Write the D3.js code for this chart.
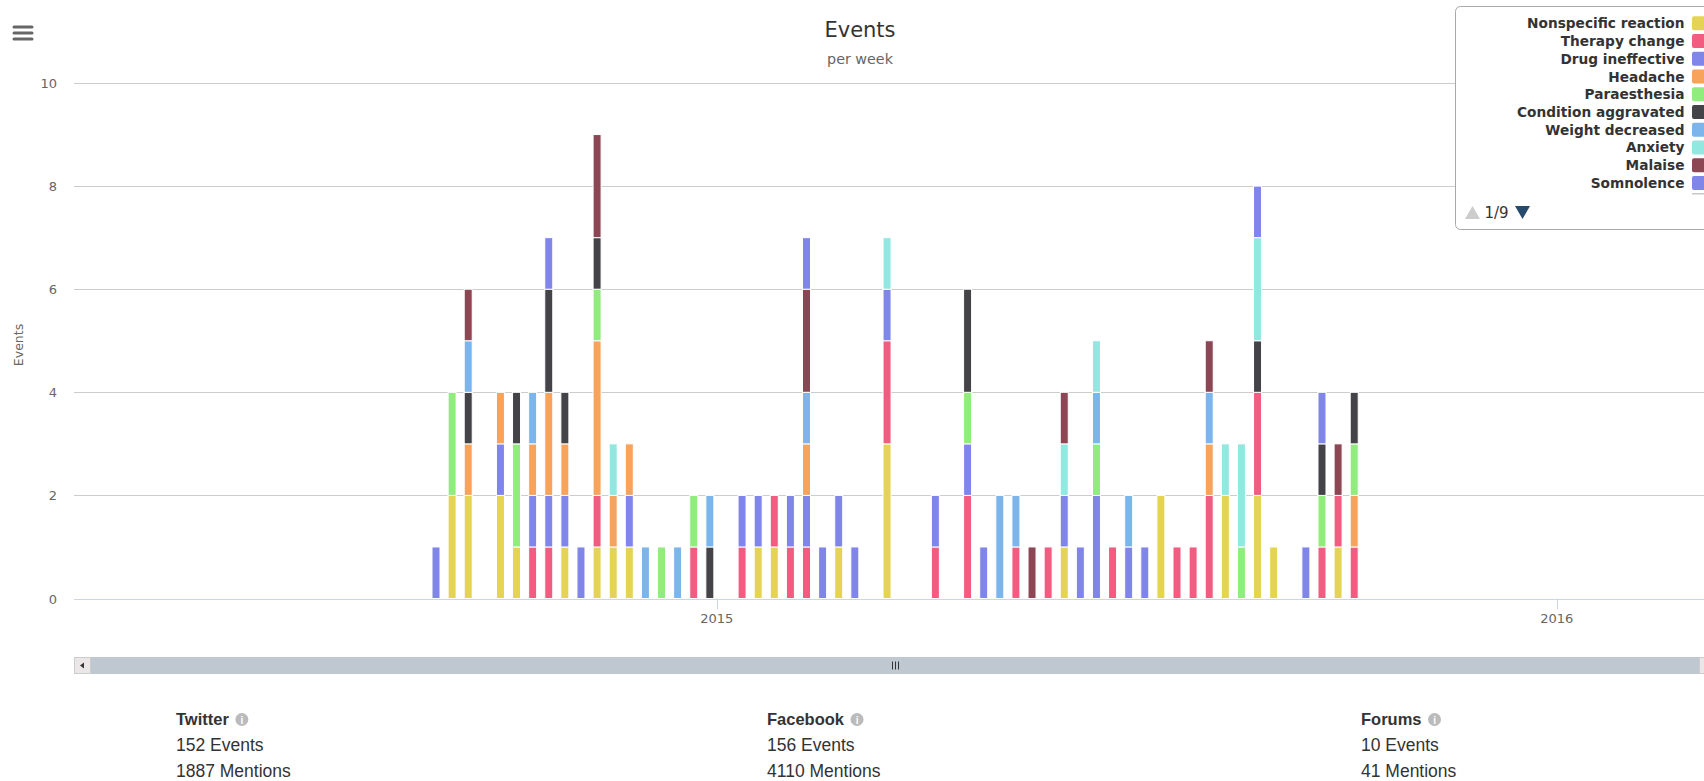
<!doctype html>
<html>
<head>
<meta charset="utf-8">
<script src="https://d3js.org/d3.v7.min.js"></script>
<style>
  body { margin: 0; background: #fff; }
  svg { display: block; }
</style>
</head>
<body>
<script>
// weeks that have events (week start)
const weeks = [
  "2014-09-01", "2014-09-08", "2014-09-15", "2014-09-29", "2014-10-06", "2014-10-13", "2014-10-20", "2014-10-27", "2014-11-03", "2014-11-10",
  "2014-11-17", "2014-11-24", "2014-12-01", "2014-12-08", "2014-12-15", "2014-12-22", "2014-12-29", "2015-01-12", "2015-01-19", "2015-01-26",
  "2015-02-02", "2015-02-09", "2015-02-16", "2015-02-23", "2015-03-02", "2015-03-16", "2015-04-06", "2015-04-20", "2015-04-27", "2015-05-04",
  "2015-05-11", "2015-05-18", "2015-05-25", "2015-06-01", "2015-06-08", "2015-06-15", "2015-06-22", "2015-06-29", "2015-07-06", "2015-07-13",
  "2015-07-20", "2015-07-27", "2015-08-03", "2015-08-10", "2015-08-17", "2015-08-24", "2015-08-31", "2015-09-14", "2015-09-21", "2015-09-28",
  "2015-10-05"
]

const seriesNames = ["Nonspecific reaction", "Therapy change", "Drug ineffective", "Headache", "Paraesthesia",
  "Condition aggravated", "Weight decreased", "Anxiety", "Malaise", "Somnolence"]
const seriesColors = ["#e4d354", "#f15c80", "#8085e9", "#f7a35c", "#90ed7d",
  "#434348", "#7cb5ec", "#91e8e1", "#8d4654", "#8085e9"]

// events per week, one array per series, same order as weeks
const nonspecific = [0,2,2,2,1,0,0,1,0,1, 1,1,0,0,0,0,0,0,1,1, 0,0,0,1,0,3,0,0,0,0, 0,0,0,1,0,0,0,0,0,2, 0,0,0,2,0,2,1,0,0,1, 0]
const therapy     = [0,0,0,0,0,1,1,0,0,1, 0,0,0,0,0,1,0,1,0,1, 1,1,0,0,0,2,1,2,0,0, 1,0,1,0,0,0,1,0,0,0, 1,1,2,0,0,2,0,0,1,1, 1]
const ineffective = [1,0,0,1,0,1,1,1,1,0, 0,1,0,0,0,0,0,1,1,0, 1,1,1,1,1,1,1,1,1,0, 0,0,0,1,1,2,0,1,1,0, 0,0,0,0,0,0,0,1,0,0, 0]
const headache    = [0,0,1,1,0,1,2,1,0,3, 1,1,0,0,0,0,0,0,0,0, 0,1,0,0,0,0,0,0,0,0, 0,0,0,0,0,0,0,0,0,0, 0,0,1,0,0,0,0,0,0,0, 1]
const paraesth    = [0,2,0,0,2,0,0,0,0,1, 0,0,0,1,0,1,0,0,0,0, 0,0,0,0,0,0,0,1,0,0, 0,0,0,0,0,1,0,0,0,0, 0,0,0,0,1,0,0,0,1,0, 1]
const aggravated  = [0,0,1,0,1,0,2,1,0,1, 0,0,0,0,0,0,1,0,0,0, 0,0,0,0,0,0,0,2,0,0, 0,0,0,0,0,0,0,0,0,0, 0,0,0,0,0,1,0,0,1,0, 1]
const weightDec   = [0,0,1,0,0,1,0,0,0,0, 0,0,1,0,1,0,1,0,0,0, 0,1,0,0,0,0,0,0,0,2, 1,0,0,0,0,1,0,1,0,0, 0,0,1,0,0,0,0,0,0,0, 0]
const anxiety     = [0,0,0,0,0,0,0,0,0,0, 1,0,0,0,0,0,0,0,0,0, 0,0,0,0,0,1,0,0,0,0, 0,0,0,1,0,1,0,0,0,0, 0,0,0,1,2,2,0,0,0,0, 0]
const malaise     = [0,0,1,0,0,0,0,0,0,2, 0,0,0,0,0,0,0,0,0,0, 0,2,0,0,0,0,0,0,0,0, 0,1,0,1,0,0,0,0,0,0, 0,0,1,0,0,0,0,0,0,1, 0]
const somnolence  = [0,0,0,0,0,0,1,0,0,0, 0,0,0,0,0,0,0,0,0,0, 0,1,0,0,0,0,0,0,0,0, 0,0,0,0,0,0,0,0,0,0, 0,0,0,0,0,1,0,0,1,0, 0]

const seriesValues = [nonspecific, therapy, ineffective, headache, paraesth, aggravated, weightDec, anxiety, malaise, somnolence]

const yTicks = [0, 2, 4, 6, 8, 10]
const xTicks = ["2015-01-01", "2016-01-01"]
const xDomain = ["2014-03-29", "2016-03-05"]

const footer = [
  { name: "Twitter", events: 152, mentions: 1887 },
  { name: "Facebook", events: 156, mentions: 4110 },
  { name: "Forums", events: 10, mentions: 41 }
]

const W = 1704
const H = 781
const plotLeft = 77
const plotRight = 1704
const plotTop = 83
const plotBottom = 598.5
const font = "'DejaVu Sans', Verdana, sans-serif"

const parse = d3.utcParse("%Y-%m-%d")

// table for the stack
const table = weeks.map((w, i) => {
  let row = { date: parse(w) }
  seriesNames.forEach((n, j) => { row[n] = seriesValues[j][i] })
  return row
})
const stacked = d3.stack().keys(seriesNames)(table)

const x = d3.scaleUtc().domain(xDomain.map(parse)).range([plotLeft, plotRight])
const y = d3.scaleLinear().domain([0, 10]).range([plotBottom, plotTop])

let svg = d3.select('body')
  .append('svg')
  .attr('width', W)
  .attr('height', H)
  .attr('font-family', font)

//grid
svg.append('g')
  .selectAll('line')
  .data(yTicks.filter(d => d > 0))
  .enter()
  .append('line')
  .attr('x1', plotLeft - 3)
  .attr('x2', plotRight)
  .attr('y1', d => Math.round(y(d)) + 0.5)
  .attr('y2', d => Math.round(y(d)) + 0.5)
  .attr('stroke', '#cccccc')
  .attr('stroke-width', 1)

svg.append('g')
  .selectAll('text')
  .data(yTicks)
  .enter()
  .append('text')
  .attr('x', 57)
  .attr('y', d => y(d) + 5)
  .attr('text-anchor', 'end')
  .attr('fill', '#666')
  .attr('font-size', '13px')
  .text(d => d)

svg.append('text')
  .attr('transform', 'translate(23,345) rotate(-90)')
  .attr('text-anchor', 'middle')
  .attr('fill', '#666')
  .attr('font-size', '12.5px')
  .text('Events')

//bars
const bw = 8
svg.append('g')
  .selectAll('g')
  .data(stacked)
  .enter()
  .append('g')
  .attr('fill', (d, i) => seriesColors[i])
  .selectAll('rect')
  .data(d => d.filter(p => p[1] > p[0]))
  .enter()
  .append('rect')
  .attr('x', d => x(d.data.date) - bw / 2)
  .attr('y', d => y(d[1]))
  .attr('width', bw)
  .attr('height', d => y(d[0]) - y(d[1]))
  .attr('stroke', '#fff')
  .attr('stroke-width', 1)

//x axis
svg.append('line')
  .attr('x1', plotLeft - 3)
  .attr('x2', plotRight)
  .attr('y1', Math.round(plotBottom) + 0.5)
  .attr('y2', Math.round(plotBottom) + 0.5)
  .attr('stroke', '#ccd6eb')
svg.append('g')
  .selectAll('line')
  .data(xTicks)
  .enter()
  .append('line')
  .attr('x1', d => Math.round(x(parse(d))) + 0.5)
  .attr('x2', d => Math.round(x(parse(d))) + 0.5)
  .attr('y1', plotBottom)
  .attr('y2', plotBottom + 11)
  .attr('stroke', '#ccd6eb')
svg.append('g')
  .selectAll('text')
  .data(xTicks)
  .enter()
  .append('text')
  .attr('x', d => x(parse(d)))
  .attr('y', 623)
  .attr('text-anchor', 'middle')
  .attr('fill', '#666')
  .attr('font-size', '13px')
  .text(d => d.slice(0, 4))

//title
svg.append('text')
  .attr('x', 860)
  .attr('y', 37)
  .attr('text-anchor', 'middle')
  .attr('fill', '#333')
  .attr('font-size', '21px')
  .text('Events')
svg.append('text')
  .attr('x', 860)
  .attr('y', 63.5)
  .attr('text-anchor', 'middle')
  .attr('fill', '#666')
  .attr('font-size', '14.3px')
  .text('per week')

//menu button
svg.append('g')
  .selectAll('line')
  .data([27, 33, 39])
  .enter()
  .append('line')
  .attr('x1', 14)
  .attr('x2', 32)
  .attr('y1', d => d)
  .attr('y2', d => d)
  .attr('stroke', '#666')
  .attr('stroke-width', 3)
  .attr('stroke-linecap', 'round')

//scrollbar
const sbY = 657
const sbH = 17
svg.append('rect')
  .attr('x', 74).attr('y', sbY)
  .attr('width', plotRight - 74).attr('height', sbH)
  .attr('fill', '#f2f2f2')
svg.append('rect')
  .attr('x', 91).attr('y', sbY)
  .attr('width', 1608).attr('height', sbH)
  .attr('fill', '#bfc8d1')
svg.append('rect')
  .attr('x', 74.5).attr('y', sbY + 0.5)
  .attr('width', 16).attr('height', sbH - 1)
  .attr('fill', '#ebe7e8')
  .attr('stroke', '#ccc')
svg.append('path')
  .attr('d', `M80,${sbY + 8.5} L84,${sbY + 5.5} L84,${sbY + 11.5} Z`)
  .attr('fill', '#333')
svg.append('rect')
  .attr('x', 1699.5).attr('y', sbY + 0.5)
  .attr('width', 16).attr('height', sbH - 1)
  .attr('fill', '#ebe7e8')
  .attr('stroke', '#ccc')
svg.append('g')
  .selectAll('line')
  .data([-3, 0, 3])
  .enter()
  .append('line')
  .attr('x1', d => 895.5 + d)
  .attr('x2', d => 895.5 + d)
  .attr('y1', sbY + 4.5)
  .attr('y2', sbY + sbH - 4.5)
  .attr('stroke', '#333')
  .attr('stroke-width', 1)

//legend
const lg = svg.append('g')
lg.append('rect')
  .attr('x', 1455.5).attr('y', 6.5)
  .attr('width', 270).attr('height', 223)
  .attr('rx', 5)
  .attr('fill', '#fff')
  .attr('stroke', '#a8a8a8')
const rowY = (i) => 23.3 + i * 17.74
lg.selectAll('text.item')
  .data(seriesNames)
  .enter()
  .append('text')
  .attr('class', 'item')
  .attr('x', 1684.5)
  .attr('y', (d, i) => rowY(i) + 5)
  .attr('text-anchor', 'end')
  .attr('fill', '#333')
  .attr('font-size', '13.7px')
  .attr('font-weight', 'bold')
  .text(d => d)
lg.selectAll('rect.sym')
  .data(seriesColors)
  .enter()
  .append('rect')
  .attr('class', 'sym')
  .attr('x', 1692)
  .attr('y', (d, i) => rowY(i) - 7)
  .attr('width', 14)
  .attr('height', 14)
  .attr('rx', 2)
  .attr('fill', d => d)
// clipped top of the next legend page row
lg.append('rect')
  .attr('x', 1692).attr('y', 193)
  .attr('width', 14).attr('height', 1.5)
  .attr('fill', '#c8c8c8')
lg.append('path')
  .attr('d', 'M1465,219 L1472.5,206 L1480,219 Z')
  .attr('fill', '#ccc')
lg.append('text')
  .attr('x', 1484.5)
  .attr('y', 218)
  .attr('fill', '#333')
  .attr('font-size', '15px')
  .text('1/9')
lg.append('path')
  .attr('d', 'M1515,206 L1530,206 L1522.5,219 Z')
  .attr('fill', '#274b6d')

//footer stats
const colX = [176, 767, 1361]
const ff = "'Liberation Sans', Arial, Helvetica, sans-serif"
footer.forEach((f, i) => {
  let g = svg.append('g').attr('font-family', ff).attr('fill', '#333')
  let t = g.append('text')
    .attr('x', colX[i]).attr('y', 725)
    .attr('font-size', '16.5px')
    .attr('font-weight', 'bold')
    .text(f.name)
  const tw = t.node().getComputedTextLength()
  g.append('circle')
    .attr('cx', colX[i] + tw + 13)
    .attr('cy', 719.5)
    .attr('r', 6.5)
    .attr('fill', '#bbb')
  g.append('text')
    .attr('x', colX[i] + tw + 13)
    .attr('y', 723.5)
    .attr('text-anchor', 'middle')
    .attr('font-size', '10px')
    .attr('font-weight', 'bold')
    .attr('fill', '#fff')
    .text('i')
  g.append('text')
    .attr('x', colX[i]).attr('y', 751)
    .attr('font-size', '17.5px')
    .text(f.events + ' Events')
  g.append('text')
    .attr('x', colX[i]).attr('y', 776.5)
    .attr('font-size', '17.5px')
    .text(f.mentions + ' Mentions')
})
</script>
</body>
</html>
